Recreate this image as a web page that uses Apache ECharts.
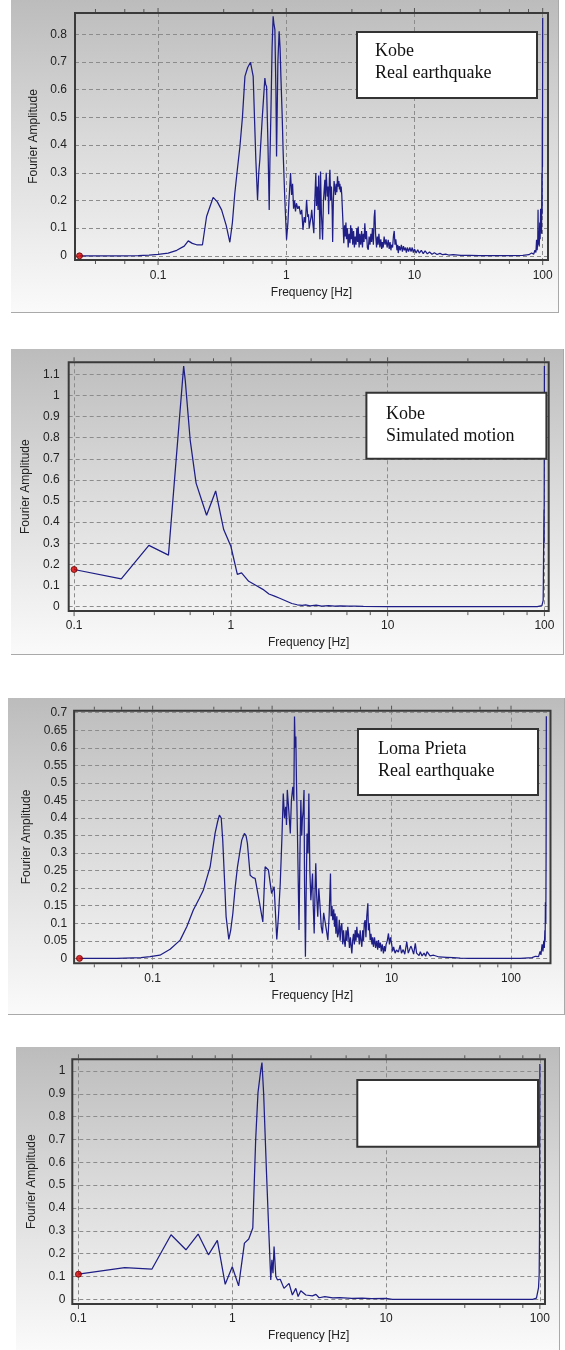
<!DOCTYPE html>
<html>
<head>
<meta charset="utf-8">
<script src="https://cdn.jsdelivr.net/npm/echarts@6/dist/echarts.min.js"></script>
<style>
  html, body { margin: 0; padding: 0; background: #ffffff; width: 565px; height: 1350px; overflow: hidden; }
  .panel {
    position: absolute;
    box-sizing: border-box;
    background: linear-gradient(to bottom, #bcbcbc 0%, #dadada 45%, #fafafa 100%);
    border-right: 1px solid #a9a9a9;
    border-bottom: 1px solid #a9a9a9;
  }
</style>
</head>
<body>
<div id="p1" class="panel" style="left:11px;top:0px;width:548px;height:313px"></div>
<div id="p2" class="panel" style="left:11px;top:349px;width:553px;height:306px"></div>
<div id="p3" class="panel" style="left:8px;top:698px;width:557px;height:317px"></div>
<div id="p4" class="panel" style="left:16px;top:1047px;width:544px;height:303px;border-bottom:none"></div>
<script>
// Fourier amplitude spectra: [frequency (Hz), amplitude]
const kobeReal = [
  [0.0244,0],[0.05,0],[0.07,0.001],[0.085,0.003],[0.1,0.005],[0.12,0.01],[0.14,0.02],[0.16,0.035],
  [0.172,0.054],[0.185,0.045],[0.2,0.04],[0.222,0.04],[0.239,0.142],[0.255,0.18],[0.269,0.211],
  [0.29,0.195],[0.313,0.166],[0.34,0.11],[0.363,0.049],[0.38,0.12],[0.397,0.227],[0.415,0.31],
  [0.435,0.395],[0.455,0.5],[0.476,0.648],[0.5,0.68],[0.526,0.699],[0.552,0.648],[0.565,0.5],
  [0.579,0.347],[0.597,0.202],[0.61,0.3],[0.622,0.347],[0.65,0.5],[0.681,0.642],[0.69,0.62],
  [0.702,0.612],[0.72,0.4],[0.736,0.166],[0.746,0.35],[0.758,0.504],[0.775,0.75],[0.79,0.865],
  [0.8,0.84],[0.815,0.817],[0.83,0.6],[0.84,0.359],[0.86,0.7],[0.88,0.811],[0.895,0.75],
  [0.908,0.648],[0.93,0.5],[0.946,0.371],[0.975,0.2],[1.005,0.058],[1.03,0.12],[1.05,0.2],
  [1.08,0.299],[1.1,0.22],[1.12,0.26],[1.14,0.17],[1.16,0.2],[1.18,0.16],[1.2,0.19],[1.23,0.17],
  [1.26,0.18],[1.29,0.15],[1.32,0.166],[1.35,0.094],[1.38,0.14],[1.41,0.12],[1.44,0.202],
  [1.47,0.14],[1.49,0.15],[1.51,0.1],[1.53,0.118],[1.56,0.14],[1.58,0.166],[1.61,0.12],
  [1.64,0.082],[1.67,0.2],[1.7,0.299],[1.72,0.18],[1.74,0.25],[1.77,0.166],[1.79,0.29],[1.81,0.2],
  [1.83,0.06],[1.85,0.305],[1.88,0.15],[1.92,0.058],[1.95,0.2],[2.0,0.275],[2.02,0.2],[2.05,0.3],
  [2.09,0.214],[2.12,0.25],[2.14,0.15],[2.17,0.28],[2.19,0.311],[2.22,0.2],[2.25,0.25],
  [2.28,0.166],[2.3,0.05],[2.33,0.2],[2.36,0.27],[2.39,0.263],[2.42,0.22],[2.45,0.26],
  [2.48,0.23],[2.51,0.287],[2.54,0.25],[2.57,0.27],[2.6,0.24],[2.62,0.26],[2.65,0.23],[2.68,0.25],
  [2.71,0.22],[2.73,0.227],[2.78,0.1],[2.81,0.046],[2.85,0.11],[2.88,0.07],[2.92,0.12],[2.95,0.06],
  [3.0,0.1],[3.04,0.03],[3.09,0.08],[3.14,0.046],[3.18,0.11],[3.22,0.06],[3.26,0.1],[3.3,0.04],
  [3.35,0.09],[3.4,0.03],[3.45,0.07],[3.5,0.04],[3.55,0.1],[3.6,0.05],[3.64,0.106],[3.7,0.03],
  [3.75,0.08],[3.81,0.04],[3.87,0.09],[3.93,0.03],[3.98,0.08],[4.04,0.05],[4.1,0.118],[4.16,0.06],
  [4.22,0.09],[4.29,0.03],[4.36,0.022],[4.43,0.07],[4.5,0.04],[4.57,0.08],[4.63,0.05],[4.7,0.1],
  [4.78,0.04],[4.85,0.14],[4.91,0.166],[4.97,0.08],[5.06,0.03],[5.13,0.07],[5.2,0.04],[5.28,0.08],
  [5.37,0.03],[5.46,0.06],[5.55,0.025],[5.62,0.05],[5.7,0.03],[5.8,0.07],[5.9,0.04],[6.0,0.06],
  [6.12,0.03],[6.24,0.058],[6.35,0.025],[6.45,0.05],[6.55,0.02],[6.63,0.04],[6.75,0.03],
  [6.85,0.07],[6.95,0.09],[7.05,0.04],[7.15,0.06],[7.3,0.02],[7.4,0.04],[7.47,0.01],[7.6,0.035],
  [7.75,0.02],[7.9,0.04],[8.05,0.015],[8.2,0.035],[8.35,0.02],[8.5,0.03],[8.65,0.012],[8.8,0.03],
  [9.0,0.015],[9.2,0.03],[9.4,0.015],[9.6,0.03],[9.8,0.012],[10.0,0.025],[10.3,0.01],[10.6,0.022],
  [10.9,0.01],[11.3,0.02],[11.7,0.008],[12.1,0.018],[12.6,0.007],[13.1,0.014],[13.7,0.006],
  [14.3,0.011],[15,0.005],[15.8,0.009],[16.6,0.004],[17.5,0.006],[18.5,0.003],[20,0.004],
  [23,0.002],[27,0.002],[32,0.001],[40,0.001],[55,0.001],[70,0.002],[78,0.004],[82,0.01],
  [85,0.006],[87,0.02],[88.5,0.012],[89.6,0.058],[90.5,0.02],[91.5,0.05],[92,0.166],[92.6,0.04],
  [93.5,0.08],[94,0.034],[94.8,0.12],[95.5,0.06],[96.4,0.17],[97,0.1],[97.5,0.17],[98,0.08],
  [98.5,0.3],[99,0.15],[99.3,0.5],[99.6,0.32],[100,0.86]
];

const kobeSimulated = [
  [0.1,0.176],[0.2,0.132],[0.3,0.29],[0.4,0.244],[0.5,1.139],[0.512,1.07],[0.55,0.79],[0.6,0.585],
  [0.7,0.433],[0.8,0.548],[0.9,0.365],[1.0,0.286],[1.1,0.153],[1.17,0.16],[1.3,0.12],[1.45,0.1],
  [1.6,0.082],[1.75,0.06],[1.9,0.05],[2.05,0.04],[2.25,0.027],[2.45,0.015],[2.65,0.009],
  [2.85,0.006],[3.0,0.008],[3.2,0.004],[3.5,0.007],[3.8,0.003],[4.2,0.005],[4.6,0.003],
  [5.0,0.004],[5.6,0.002],[6.2,0.003],[7,0.001],[10,0],[30,0],[60,0],[90,0],[96.4,0.005],
  [98.2,0.03],[98.5,0.13],[99.3,0.46],[99.6,0.3],[100,1.14]
];

const lomaReal = [
  [0.0244,0],[0.05,0],[0.08,0.002],[0.095,0.005],[0.115,0.009],[0.14,0.026],[0.17,0.052],
  [0.193,0.09],[0.219,0.138],[0.245,0.17],[0.266,0.195],[0.285,0.23],[0.303,0.261],[0.333,0.356],
  [0.35,0.39],[0.362,0.408],[0.375,0.4],[0.386,0.337],[0.4,0.22],[0.412,0.119],[0.434,0.054],
  [0.45,0.08],[0.469,0.128],[0.49,0.2],[0.513,0.261],[0.535,0.3],[0.557,0.337],[0.586,0.356],
  [0.605,0.35],[0.621,0.328],[0.655,0.237],[0.69,0.23],[0.721,0.228],[0.769,0.175],[0.836,0.104],
  [0.874,0.261],[0.931,0.252],[0.99,0.185],[1.04,0.204],[1.094,0.054],[1.13,0.12],[1.17,0.214],
  [1.21,0.35],[1.24,0.47],[1.27,0.4],[1.3,0.432],[1.32,0.38],[1.34,0.48],[1.38,0.42],[1.42,0.356],
  [1.45,0.45],[1.49,0.489],[1.52,0.45],[1.54,0.689],[1.56,0.6],[1.58,0.632],[1.6,0.5],
  [1.63,0.356],[1.68,0.081],[1.71,0.3],[1.74,0.451],[1.77,0.35],[1.79,0.394],[1.82,0.42],
  [1.85,0.48],[1.87,0.2],[1.9,0.005],[1.93,0.2],[1.96,0.356],[2.0,0.3],[2.03,0.47],[2.07,0.25],
  [2.11,0.166],[2.14,0.2],[2.18,0.242],[2.21,0.15],[2.25,0.071],[2.29,0.2],[2.32,0.271],
  [2.36,0.18],[2.41,0.119],[2.46,0.2],[2.52,0.147],[2.58,0.09],[2.64,0.071],[2.7,0.13],
  [2.78,0.128],[2.85,0.08],[2.93,0.052],[3.0,0.12],[3.04,0.18],[3.08,0.242],[3.12,0.12],
  [3.17,0.15],[3.22,0.109],[3.28,0.14],[3.33,0.09],[3.37,0.128],[3.42,0.07],[3.48,0.12],
  [3.53,0.06],[3.59,0.071],[3.65,0.11],[3.71,0.05],[3.77,0.09],[3.83,0.1],[3.9,0.04],[3.96,0.08],
  [4.02,0.05],[4.09,0.033],[4.16,0.08],[4.23,0.05],[4.3,0.09],[4.36,0.071],[4.44,0.03],
  [4.52,0.06],[4.6,0.03],[4.65,0.014],[4.72,0.05],[4.8,0.07],[4.88,0.04],[4.96,0.081],[5.04,0.05],
  [5.12,0.09],[5.2,0.06],[5.28,0.071],[5.37,0.04],[5.46,0.08],[5.55,0.05],[5.64,0.033],
  [5.73,0.08],[5.82,0.05],[5.91,0.1],[6.01,0.109],[6.1,0.06],[6.2,0.12],[6.33,0.157],[6.4,0.08],
  [6.5,0.1],[6.62,0.052],[6.72,0.07],[6.85,0.04],[6.95,0.06],[7.05,0.033],[7.2,0.06],[7.35,0.03],
  [7.5,0.05],[7.65,0.025],[7.77,0.052],[7.9,0.03],[8.05,0.045],[8.2,0.02],[8.35,0.04],
  [8.55,0.014],[8.7,0.035],[8.85,0.02],[9.0,0.04],[9.2,0.05],[9.42,0.071],[9.6,0.04],[9.8,0.06],
  [10,0.043],[10.2,0.02],[10.4,0.033],[10.7,0.015],[11,0.024],[11.4,0.018],[11.8,0.038],
  [12.1,0.015],[12.5,0.025],[12.9,0.012],[13.4,0.047],[13.8,0.015],[14.2,0.02],[14.5,0.035],
  [14.8,0.028],[15.3,0.012],[15.8,0.043],[16.2,0.015],[16.5,0.02],[17,0.008],[17.4,0.019],
  [18,0.007],[18.7,0.015],[19.3,0.006],[19.8,0.019],[21,0.007],[22.5,0.009],[25,0.004],
  [29,0.003],[33,0.002],[37.6,0.001],[45,0],[60,0],[120,0],[150,0.002],[160,0.006],[165,0.01],
  [170,0.005],[175,0.02],[178,0.01],[182,0.04],[185,0.02],[188,0.05],[190,0.03],[192,0.08],
  [193,0.05],[194,0.16],[195.5,0.1],[196.5,0.28],[197.5,0.69]
];

const lomaSimulated = [
  [0.1,0.11],[0.2,0.139],[0.3,0.132],[0.4,0.283],[0.5,0.217],[0.6,0.286],[0.7,0.195],[0.8,0.258],
  [0.9,0.066],[1.0,0.143],[1.1,0.059],[1.2,0.246],[1.28,0.264],[1.36,0.312],[1.42,0.7],
  [1.47,0.905],[1.53,1.0],[1.56,1.037],[1.6,0.9],[1.67,0.553],[1.73,0.29],[1.78,0.085],
  [1.81,0.173],[1.84,0.114],[1.87,0.231],[1.92,0.1],[1.97,0.085],[2.05,0.088],[2.17,0.048],
  [2.34,0.07],[2.46,0.019],[2.59,0.048],[2.68,0.012],[2.79,0.038],[3.01,0.019],[3.32,0.015],
  [3.5,0.022],[3.67,0.007],[4.0,0.012],[4.5,0.006],[5,0.008],[6,0.004],[7,0.005],[8,0.003],
  [10,0.004],[11,0],[50,0],[90,0],[95,0.005],[98,0.05],[99,0.11],[99.5,0.29],[100,1.03]
];

// Frame ticks on the frequency axis (decades plus quarter-decade marks)
const majorTicks = [0.1, 1, 10, 100];
const minorTicks = [0.0325, 0.055, 0.0775, 0.325, 0.55, 0.775, 3.25, 5.5, 7.75, 32.5, 55, 77.5, 325];

const annotations = [
  ['Kobe', 'Real earthquake'],
  ['Kobe', 'Simulated motion'],
  ['Loma Prieta', 'Real earthquake'],
  []
];

const LINE = '#1e1e86';
const LABEL_FONT = 'Liberation Sans';

function buildPanel(id, data, cfg, lines) {
  const chart = echarts.init(document.getElementById(id), null, { renderer: 'canvas' });
  const [gl, gt, gw, gh] = cfg.grid;
  const [yMin, yMax] = cfg.y;
  const ticks = majorTicks.map(f => [f, 1]).concat(minorTicks.map(f => [f, 0]))
    .filter(t => t[0] > cfg.x[0] && t[0] < cfg.x[1]);

  const graphic = [{
    type: 'rect', z: 20,
    shape: { x: cfg.box[0], y: cfg.box[1], width: cfg.box[2], height: cfg.box[3] },
    style: { fill: '#ffffff', stroke: '#333333', lineWidth: 2 }
  }];
  if (lines.length) {
    graphic.push({
      type: 'text', z: 21, x: cfg.text[0], y: cfg.text[1],
      style: { text: lines.join('\n'), font: '18px "Liberation Serif"', fill: '#111111', lineHeight: 22 }
    });
  }

  chart.setOption({
    animation: false,
    grid: { left: gl, top: gt, width: gw, height: gh, show: true, z: 5,
            backgroundColor: 'transparent', borderColor: '#3a3a3a', borderWidth: 2 },
    xAxis: {
      type: 'log', logBase: 10, min: cfg.x[0], max: cfg.x[1],
      name: 'Frequency [Hz]', nameLocation: 'middle', nameGap: cfg.xNameGap,
      nameTextStyle: { fontFamily: LABEL_FONT, fontSize: 12, color: '#222' },
      axisLine: { show: false }, axisTick: { show: false },
      axisLabel: { margin: cfg.xLabelMargin, showMinLabel: false, showMaxLabel: false,
                   fontFamily: LABEL_FONT, fontSize: 12, color: '#222' },
      splitLine: { show: true, showMinLine: false, showMaxLine: false,
                   lineStyle: { type: [4, 3], color: '#8c8c8c', width: 1 } }
    },
    yAxis: {
      type: 'value', min: yMin, max: yMax, splitNumber: cfg.split,
      name: 'Fourier Amplitude', nameLocation: 'middle', nameGap: cfg.yNameGap,
      nameTextStyle: { fontFamily: LABEL_FONT, fontSize: 12, color: '#222' },
      axisLine: { show: false }, axisTick: { show: false },
      axisLabel: { margin: cfg.yLabelMargin, showMinLabel: false, showMaxLabel: false,
                   fontFamily: LABEL_FONT, fontSize: 12, color: '#222' },
      splitLine: { show: true, showMinLine: false, showMaxLine: false,
                   lineStyle: { type: [4, 3], color: '#8c8c8c', width: 1 } }
    },
    series: [
      {
        type: 'line', data: data, showSymbol: false, symbol: 'none', sampling: null,
        lineStyle: { color: LINE, width: 1.25 }, z: 3, silent: true
      },
      {
        type: 'scatter', data: [data[0]], symbol: 'circle', symbolSize: 6, z: 6, silent: true,
        itemStyle: { color: '#d40000', borderColor: '#6a0000', borderWidth: 1 }
      },
      {
        type: 'custom', data: ticks, silent: true, z: 6, clip: false,
        renderItem: function (params, api) {
          const f = api.value(0);
          const len = api.value(1) ? 4 : 3;
          const b = api.coord([f, yMin]);
          const t = api.coord([f, yMax]);
          return {
            type: 'group',
            children: [
              { type: 'line', shape: { x1: b[0], y1: b[1] + 1, x2: b[0], y2: b[1] + 1 + len },
                style: { stroke: '#555', lineWidth: 1 } },
              { type: 'line', shape: { x1: t[0], y1: t[1] - 1, x2: t[0], y2: t[1] - 1 - len },
                style: { stroke: '#555', lineWidth: 1 } }
            ]
          };
        }
      }
    ],
    graphic: graphic
  });
}

buildPanel('p1', kobeReal, {
  grid: [64, 13, 473, 247], x: [0.0225, 110], y: [-0.015, 0.877], split: 9,
  xNameGap: 25, yNameGap: 35, xLabelMargin: 10, yLabelMargin: 8,
  box: [346, 32, 180, 66], text: [364, 40.5]
}, annotations[0]);

buildPanel('p2', kobeSimulated, {
  grid: [57.7, 13.3, 480, 249.4], x: [0.0924, 106.5], y: [-0.021, 1.157], split: 12,
  xNameGap: 25, yNameGap: 28, xLabelMargin: 9, yLabelMargin: 9,
  box: [355.4, 43.7, 180, 66], text: [374.9, 54]
}, annotations[1]);

buildPanel('p3', lomaReal, {
  grid: [66.1, 12.7, 476.4, 252.6], x: [0.022, 214], y: [-0.014, 0.7057], split: 14,
  xNameGap: 24, yNameGap: 35, xLabelMargin: 9, yLabelMargin: 7,
  box: [350, 31, 180, 66], text: [370, 40]
}, annotations[2]);

buildPanel('p4', lomaSimulated, {
  grid: [56.3, 12.3, 472.7, 244.7], x: [0.0912, 108], y: [-0.0204, 1.051], split: 11,
  xNameGap: 24, yNameGap: 28, xLabelMargin: 9, yLabelMargin: 7,
  box: [341.3, 33, 180.7, 66.7], text: [0, 0]
}, annotations[3]);
</script>
</body>
</html>
